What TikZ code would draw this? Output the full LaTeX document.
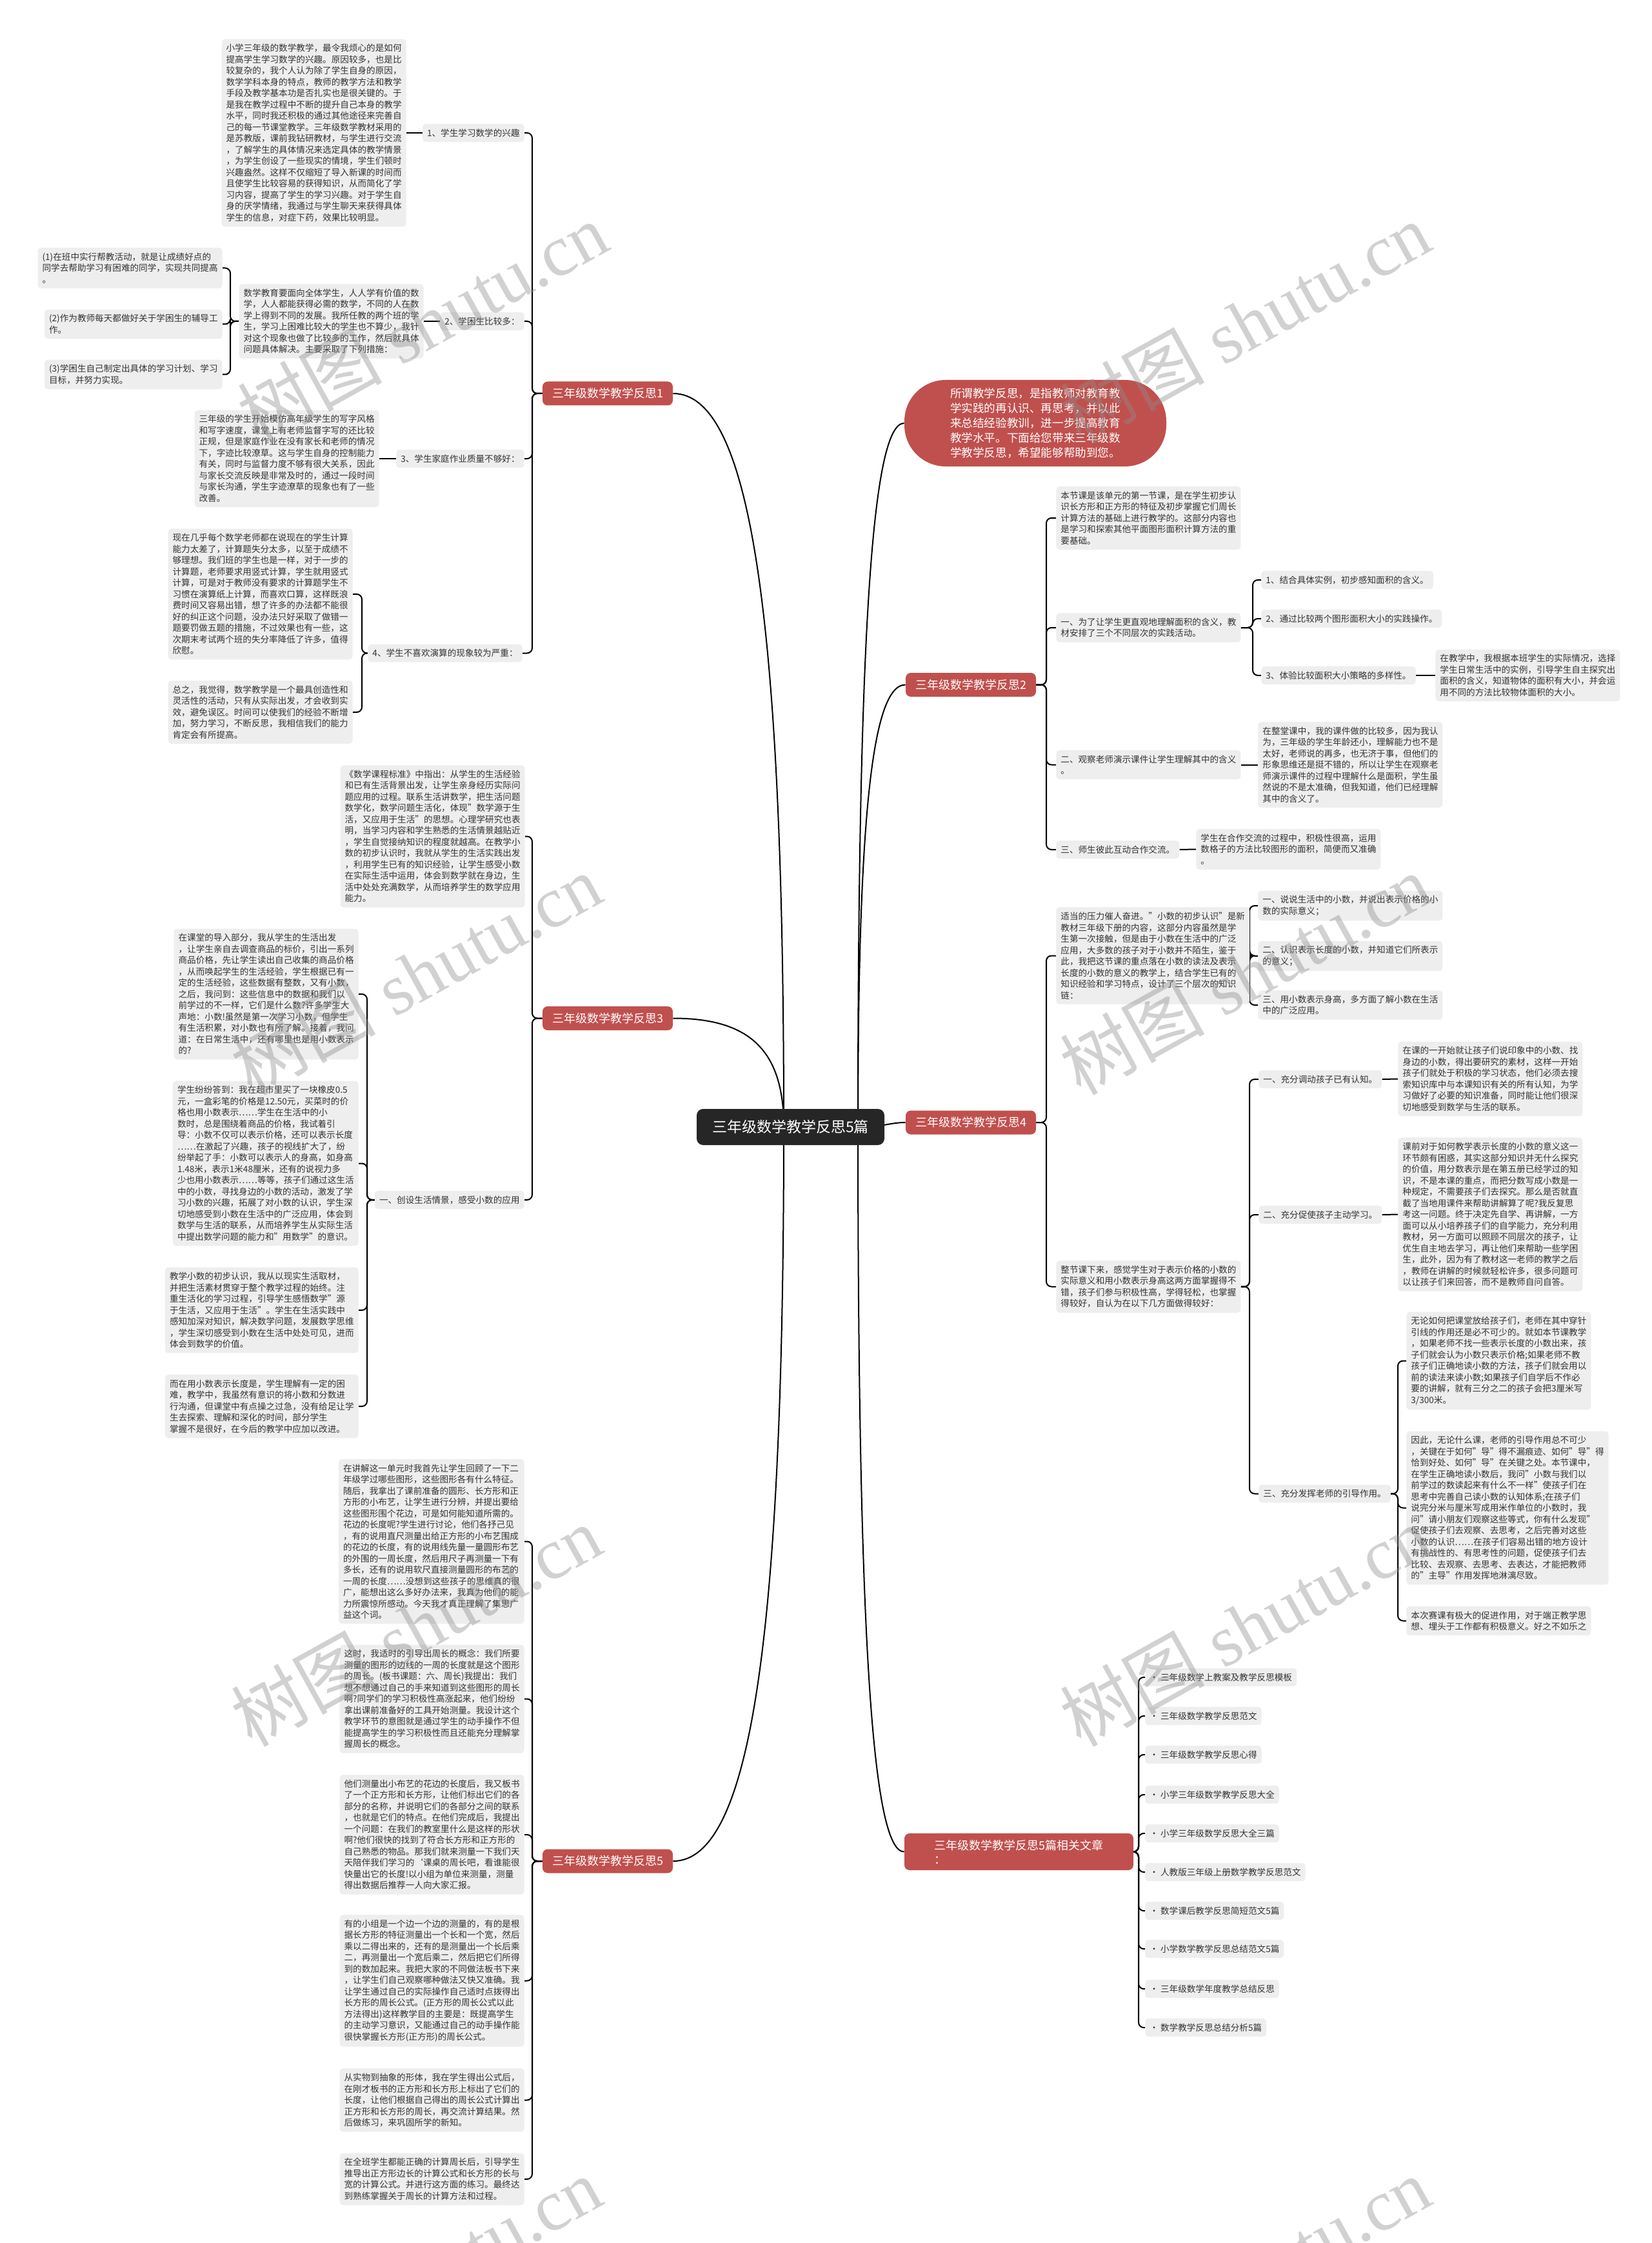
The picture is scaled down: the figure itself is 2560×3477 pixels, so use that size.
\documentclass[tikz,border=0pt]{standalone}
\usepackage{fontspec}
\setmainfont{Noto Sans CJK SC}
\newfontfamily\wmserif{Liberation Serif}
\usetikzlibrary{backgrounds}
\definecolor{boxg}{HTML}{EEEEEE}
\definecolor{txt}{HTML}{333333}
\definecolor{redn}{HTML}{C0504D}
\definecolor{rootc}{HTML}{262626}
\newcommand\fsA{\fontsize{6.8pt}{8.75pt}\selectfont}
\newcommand\fsB{\fontsize{9pt}{11pt}\selectfont}
\newcommand\lkL[3]{\draw[conn] (#1.west) -- (#1.west -| #2) |- (#3.east);}
\newcommand\lkR[3]{\draw[conn] (#1.east) -- (#1.east -| #2) |- (#3.west);}
\tikzset{
  conn/.style={draw=black, line width=1pt, rounded corners=4pt},
  bx/.style={fill=boxg, text=txt, rounded corners=2.5pt, inner xsep=3.5pt, inner ysep=3.8pt, align=left, font=\fsA},
  bl/.style={bx, anchor=east},
  br/.style={bx, anchor=west},
  lone/.style={fill=redn, text=white, rounded corners=4pt, font=\fsB, minimum width=101pt, minimum height=18.5pt, inner sep=0pt},
  rootn/.style={fill=rootc, text=white, rounded corners=5pt, minimum width=145.5pt, minimum height=28pt, font=\fontsize{11.5pt}{14pt}\selectfont},
  bubble/.style={fill=redn, text=white, rounded corners=32pt, minimum width=203pt, minimum height=67pt, align=left, font=\fontsize{8.8pt}{11.5pt}\selectfont},
  wm/.style={text=black!45, opacity=0.4, rotate=29, font=\fontsize{56pt}{60pt}\selectfont}
}
\begin{document}
\begin{tikzpicture}[x=0.5pt,y=-0.5pt]
\useasboundingbox (0,0) rectangle (2560,3477);
% spine coordinates
\coordinate (spL) at (825,0);
\coordinate (sp1b) at (357,0);
\coordinate (sp1d) at (561,0);
\coordinate (sp3b) at (569,0);
\coordinate (spR) at (1622,0);
\coordinate (sp2b) at (1942,0);
\coordinate (sp4a) at (1937,0);
\coordinate (sp4c) at (2167,0);
\coordinate (spX) at (1765,0);

% ---------- root and level 1 ----------
\node[rootn] (root) at (1225.5,1747) {三年级数学教学反思5篇};
\node[lone] (A1) at (942,610) {三年级数学教学反思1};
\node[lone] (A3) at (942,1578.5) {三年级数学教学反思3};
\node[lone] (A5) at (942,2885) {三年级数学教学反思5};
\node[bubble] (intro) at (1605,656) {所谓教学反思，是指教师对教育教\\学实践的再认识、再思考，并以此\\来总结经验教训，进一步提高教育\\教学水平。下面给您带来三年级数\\学教学反思，希望能够帮助到您。};
\node[lone] (A2) at (1505,1061.5) {三年级数学教学反思2};
\node[lone] (A4) at (1505,1740) {三年级数学教学反思4};
\node[lone, minimum width=177.5pt, minimum height=28.5pt, align=left] (A6) at (1579.5,2870.5) {三年级数学教学反思5篇相关文章\\：};

% ---------- section 1 ----------
\node[bl] (s1a) at (813,206) {1、学生学习数学的兴趣};
\node[bl] (s1at) at (630,206) {小学三年级的数学教学，最令我烦心的是如何\\提高学生学习数学的兴趣。原因较多，也是比\\较复杂的，我个人认为除了学生自身的原因，\\数学学科本身的特点，教师的教学方法和教学\\手段及教学基本功是否扎实也是很关键的。于\\是我在教学过程中不断的提升自己本身的教学\\水平，同时我还积极的通过其他途径来完善自\\己的每一节课堂教学。三年级数学教材采用的\\是苏教版，课前我钻研教材，与学生进行交流\\，了解学生的具体情况来选定具体的教学情景\\，为学生创设了一些现实的情境，学生们顿时\\兴趣盎然。这样不仅缩短了导入新课的时间而\\且使学生比较容易的获得知识，从而简化了学\\习内容，提高了学生的学习兴趣。对于学生自\\身的厌学情绪，我通过与学生聊天来获得具体\\学生的信息，对症下药，效果比较明显。};
\node[bl] (s1b) at (813,498) {2、学困生比较多：};
\node[bl] (s1bt) at (657,498) {数学教育要面向全体学生，人人学有价值的数\\学，人人都能获得必需的数学，不同的人在数\\学上得到不同的发展。我所任教的两个班的学\\生，学习上困难比较大的学生也不算少，我针\\对这个现象也做了比较多的工作，然后就具体\\问题具体解决。主要采取了下列措施：};
\node[bl] (s1b1) at (345,415.5) {(1)在班中实行帮教活动，就是让成绩好点的\\同学去帮助学习有困难的同学，实现共同提高\\。};
\node[bl] (s1b2) at (345,502.5) {(2)作为教师每天都做好关于学困生的辅导工\\作。};
\node[bl] (s1b3) at (345,580.5) {(3)学困生自己制定出具体的学习计划、学习\\目标，并努力实现。};
\node[bl] (s1c) at (813,711) {3、学生家庭作业质量不够好：};
\node[bl] (s1ct) at (588,711) {三年级的学生开始模仿高年级学生的写字风格\\和写字速度，课堂上有老师监督字写的还比较\\正规，但是家庭作业在没有家长和老师的情况\\下，字迹比较潦草。这与学生自身的控制能力\\有关，同时与监督力度不够有很大关系，因此\\与家长交流反映是非常及时的，通过一段时间\\与家长沟通，学生字迹潦草的现象也有了一些\\改善。};
\node[bl] (s1d) at (810,1012.5) {4、学生不喜欢演算的现象较为严重：};
\node[bl] (s1d1) at (547,921) {现在几乎每个数学老师都在说现在的学生计算\\能力太差了，计算题失分太多，以至于成绩不\\够理想。我们班的学生也是一样，对于一步的\\计算题，老师要求用竖式计算，学生就用竖式\\计算，可是对于教师没有要求的计算题学生不\\习惯在演算纸上计算，而喜欢口算，这样既浪\\费时间又容易出错，想了许多的办法都不能很\\好的纠正这个问题，没办法只好采取了做错一\\题要罚做五题的措施，不过效果也有一些，这\\次期末考试两个班的失分率降低了许多，值得\\欣慰。};
\node[bl] (s1d2) at (547,1104) {总之，我觉得，数学教学是一个最具创造性和\\灵活性的活动，只有从实际出发，才会收到实\\效，避免误区。时间可以使我们的经验不断增\\加，努力学习，不断反思，我相信我们的能力\\肯定会有所提高。};

% ---------- section 3 ----------
\node[bl] (s3a) at (814,1296.5) {《数学课程标准》中指出：从学生的生活经验\\和已有生活背景出发，让学生亲身经历实际问\\题应用的过程。联系生活讲数学，把生活问题\\数学化，数学问题生活化，体现"数学源于生\\活，又应用于生活"的思想。心理学研究也表\\明，当学习内容和学生熟悉的生活情景越贴近\\，学生自觉接纳知识的程度就越高。在教学小\\数的初步认识时，我就从学生的生活实践出发\\，利用学生已有的知识经验，让学生感受小数\\在实际生活中运用，体会到数学就在身边，生\\活中处处充满数学，从而培养学生的数学应用\\能力。};
\node[bl] (s3b) at (813,1860) {一、创设生活情景，感受小数的应用};
\node[bl] (s3b1) at (556,1541) {在课堂的导入部分，我从学生的生活出发\\，让学生亲自去调查商品的标价，引出一系列\\商品价格，先让学生读出自己收集的商品价格\\，从而唤起学生的生活经验，学生根据已有一\\定的生活经验，这些数据有整数，又有小数，\\之后，我问到：这些信息中的数据和我们以\\前学过的不一样，它们是什么数?许多学生大\\声地：小数!虽然是第一次学习小数，但学生\\有生活积累，对小数也有所了解。接着，我问\\道：在日常生活中，还有哪里也是用小数表示\\的?};
\node[bl] (s3b2) at (556,1803.5) {学生纷纷答到：我在超市里买了一块橡皮0.5\\元，一盒彩笔的价格是12.50元，买菜时的价\\格也用小数表示……学生在生活中的小\\数时，总是围绕着商品的价格，我试着引\\导：小数不仅可以表示价格，还可以表示长度\\……在激起了兴趣，孩子的视线扩大了，纷\\纷举起了手：小数可以表示人的身高，如身高\\1.48米，表示1米48厘米，还有的说视力多\\少也用小数表示……等等，孩子们通过这生活\\中的小数，寻找身边的小数的活动，激发了学\\习小数的兴趣，拓展了对小数的认识，学生深\\切地感受到小数在生活中的广泛应用，体会到\\数学与生活的联系，从而培养学生从实际生活\\中提出数学问题的能力和"用数学"的意识。};
\node[bl] (s3b3) at (556,2031) {教学小数的初步认识，我从以现实生活取材，\\并把生活素材贯穿于整个教学过程的始终。注\\重生活化的学习过程，引导学生感悟数学"源\\于生活，又应用于生活"。学生在生活实践中\\感知加深对知识，解决数学问题，发展数学思维\\，学生深切感受到小数在生活中处处可见，进而\\体会到数学的价值。};
\node[bl] (s3b4) at (556,2180) {而在用小数表示长度是，学生理解有一定的困\\难，教学中，我虽然有意识的将小数和分数进\\行沟通，但课堂中有点操之过急，没有给足让学\\生去探索、理解和深化的时间，部分学生\\掌握不是很好，在今后的教学中应加以改进。};

% ---------- section 5 ----------
\node[bl] (s5a) at (813,2389.5) {在讲解这一单元时我首先让学生回顾了一下二\\年级学过哪些图形，这些图形各有什么特征。\\随后，我拿出了课前准备的圆形、长方形和正\\方形的小布艺，让学生进行分辨，并提出要给\\这些图形围个花边，可是如何能知道所需的。\\花边的长度呢?学生进行讨论，他们各抒己见\\，有的说用直尺测量出给正方形的小布艺围成\\的花边的长度，有的说用线先量一量圆形布艺\\的外围的一周长度，然后用尺子再测量一下有\\多长，还有的说用软尺直接测量圆形的布艺的\\一周的长度……没想到这些孩子的思维真的很\\广，能想出这么多好办法来，我真为他们的能\\力所震惊所感动。今天我才真正理解了集思广\\益这个词。};
\node[bl] (s5b) at (813,2633.5) {这时，我适时的引导出周长的概念：我们所要\\测量的图形的边线的一周的长度就是这个图形\\的周长。(板书课题：六、周长)我提出：我们\\想不想通过自己的手来知道到这些图形的周长\\啊?同学们的学习积极性高涨起来，他们纷纷\\拿出课前准备好的工具开始测量。我设计这个\\教学环节的意图就是通过学生的动手操作不但\\能提高学生的学习积极性而且还能充分理解掌\\握周长的概念。};
\node[bl] (s5c) at (813,2844) {他们测量出小布艺的花边的长度后，我又板书\\了一个正方形和长方形，让他们标出它们的各\\部分的名称，并说明它们的各部分之间的联系\\，也就是它们的特点。在他们完成后，我提出\\一个问题：在我们的教室里什么是这样的形状\\啊?他们很快的找到了符合长方形和正方形的\\自己熟悉的物品。那我们就来测量一下我们天\\天陪伴我们学习的`课桌的周长吧，看谁能很\\快量出它的长度!以小组为单位来测量，测量\\得出数据后推荐一人向大家汇报。};
\node[bl] (s5d) at (813,3070.5) {有的小组是一个边一个边的测量的，有的是根\\据长方形的特征测量出一个长和一个宽，然后\\乘以二得出来的，还有的是测量出一个长后乘\\二，再测量出一个宽后乘二，然后把它们所得\\到的数加起来。我把大家的不同做法板书下来\\，让学生们自己观察哪种做法又快又准确。我\\让学生通过自己的实际操作自己适时点拨得出\\长方形的周长公式。(正方形的周长公式以此\\方法得出)这样教学目的主要是：既提高学生\\的主动学习意识，又能通过自己的动手操作能\\很快掌握长方形(正方形)的周长公式。};
\node[bl] (s5e) at (813,3255.5) {从实物到抽象的形体，我在学生得出公式后，\\在刚才板书的正方形和长方形上标出了它们的\\长度，让他们根据自己得出的周长公式计算出\\正方形和长方形的周长，再交流计算结果。然\\后做练习，来巩固所学的新知。};
\node[bl] (s5f) at (813,3378) {在全班学生都能正确的计算周长后，引导学生\\推导出正方形边长的计算公式和长方形的长与\\宽的计算公式。并进行这方面的练习。最终达\\到熟练掌握关于周长的计算方法和过程。};

% ---------- section 2 ----------
\node[br] (s2a) at (1637,803) {本节课是该单元的第一节课，是在学生初步认\\识长方形和正方形的特征及初步掌握它们周长\\计算方法的基础上进行教学的。这部分内容也\\是学习和探索其他平面图形面积计算方法的重\\要基础。};
\node[br] (s2b) at (1637,973) {一、为了让学生更直观地理解面积的含义，教\\材安排了三个不同层次的实践活动。};
\node[br] (s2b1) at (1955,899) {1、结合具体实例，初步感知面积的含义。};
\node[br] (s2b2) at (1955,959) {2、通过比较两个图形面积大小的实践操作。};
\node[br] (s2b3) at (1955,1047) {3、体验比较面积大小策略的多样性。};
\node[br] (s2b3t) at (2225,1047) {在教学中，我根据本班学生的实际情况，选择\\学生日常生活中的实例，引导学生自主探究出\\面积的含义，知道物体的面积有大小，并会运\\用不同的方法比较物体面积的大小。};
\node[br] (s2c) at (1637,1185.5) {二、观察老师演示课件让学生理解其中的含义\\。};
\node[br] (s2ct) at (1950,1185.5) {在整堂课中，我的课件做的比较多，因为我认\\为，三年级的学生年龄还小，理解能力也不是\\太好，老师说的再多，也无济于事，但他们的\\形象思维还是挺不错的，所以让学生在观察老\\师演示课件的过程中理解什么是面积，学生虽\\然说的不是太准确，但我知道，他们已经理解\\其中的含义了。};
\node[br] (s2d) at (1637,1317) {三、师生彼此互动合作交流。};
\node[br] (s2dt) at (1854,1316.5) {学生在合作交流的过程中，积极性很高，运用\\数格子的方法比较图形的面积，简便而又准确\\。};

% ---------- section 4 ----------
\node[br] (s4a) at (1637,1481.5) {适当的压力催人奋进。"小数的初步认识"是新\\教材三年级下册的内容，这部分内容虽然是学\\生第一次接触，但是由于小数在生活中的广泛\\应用，大多数的孩子对于小数并不陌生，鉴于\\此，我把这节课的重点落在小数的读法及表示\\长度的小数的意义的教学上，结合学生已有的\\知识经验和学习特点，设计了三个层次的知识\\链：};
\node[br] (s4a1) at (1950,1404) {一、说说生活中的小数，并说出表示价格的小\\数的实际意义；};
\node[br] (s4a2) at (1950,1482) {二、认识表示长度的小数，并知道它们所表示\\的意义；};
\node[br] (s4a3) at (1950,1558) {三、用小数表示身高，多方面了解小数在生活\\中的广泛应用。};
\node[br] (s4b) at (1637,1994.5) {整节课下来，感觉学生对于表示价格的小数的\\实际意义和用小数表示身高这两方面掌握得不\\错，孩子们参与积极性高，学得轻松，也掌握\\得较好，自认为在以下几方面做得较好：};
\node[br] (s4b1) at (1951,1673) {一、充分调动孩子已有认知。};
\node[br] (s4b1t) at (2167,1672.5) {在课的一开始就让孩子们说印象中的小数、找\\身边的小数，得出要研究的素材，这样一开始\\孩子们就处于积极的学习状态，他们必须去搜\\索知识库中与本课知识有关的所有认知，为学\\习做好了必要的知识准备，同时能让他们很深\\切地感受到数学与生活的联系。};
\node[br] (s4b2) at (1951,1883) {二、充分促使孩子主动学习。};
\node[br] (s4b2t) at (2167,1882.5) {课前对于如何教学表示长度的小数的意义这一\\环节颇有困惑，其实这部分知识并无什么探究\\的价值，用分数表示是在第五册已经学过的知\\识，不是本课的重点，而把分数写成小数是一\\种规定，不需要孩子们去探究。那么是否就直\\截了当地用课件来帮助讲解算了呢?我反复思\\考这一问题。终于决定先自学、再讲解，一方\\面可以从小培养孩子们的自学能力，充分利用\\教材，另一方面可以照顾不同层次的孩子，让\\优生自主地去学习，再让他们来帮助一些学困\\生，此外，因为有了教材这一老师的教学之后\\，教师在讲解的时候就轻松许多，很多问题可\\以让孩子们来回答，而不是教师自问自答。};
\node[br] (s4b3) at (1951,2315.5) {三、充分发挥老师的引导作用。};
\node[br] (s4b3a) at (2180,2109.5) {无论如何把课堂放给孩子们，老师在其中穿针\\引线的作用还是必不可少的。就如本节课教学\\，如果老师不找一些表示长度的小数出来，孩\\子们就会认为小数只表示价格;如果老师不教\\孩子们正确地读小数的方法，孩子们就会用以\\前的读法来读小数;如果孩子们自学后不作必\\要的讲解，就有三分之二的孩子会把3厘米写\\3/300米。};
\node[br] (s4b3b) at (2180,2337.5) {因此，无论什么课，老师的引导作用总不可少\\，关键在于如何"导"得不漏痕迹、如何"导"得\\恰到好处、如何"导"在关键之处。本节课中，\\在学生正确地读小数后，我问"小数与我们以\\前学过的数读起来有什么不一样"使孩子们在\\思考中完善自己读小数的认知体系;在孩子们\\说完分米与厘米写成用米作单位的小数时，我\\问"请小朋友们观察这些等式，你有什么发现"\\促使孩子们去观察、去思考，之后完善对这些\\小数的认识……在孩子们容易出错的地方设计\\有挑战性的、有思考性的问题，促使孩子们去\\比较、去观察、去思考、去表达，才能把教师\\的"主导"作用发挥地淋漓尽致。};
\node[br] (s4b3c) at (2180,2512.5) {本次赛课有极大的促进作用，对于端正教学思\\想、埋头于工作都有积极意义。好之不如乐之};

% ---------- related ----------
\node[br] (r1) at (1775,2600) {• 三年级数学上教案及教学反思模板};
\node[br] (r2) at (1775,2660) {• 三年级数学教学反思范文};
\node[br] (r3) at (1775,2720) {• 三年级数学教学反思心得};
\node[br] (r4) at (1775,2782) {• 小学三年级数学教学反思大全};
\node[br] (r5) at (1775,2842) {• 小学三年级数学反思大全三篇};
\node[br] (r6) at (1775,2902) {• 人教版三年级上册数学教学反思范文};
\node[br] (r7) at (1775,2962) {• 数学课后教学反思简短范文5篇};
\node[br] (r8) at (1775,3021) {• 小学数学教学反思总结范文5篇};
\node[br] (r9) at (1775,3083) {• 三年级数学年度教学总结反思};
\node[br] (r10) at (1775,3143) {• 数学教学反思总结分析5篇};

% ---------- connectors ----------
\begin{pgfonlayer}{background}
\fill[white] (0,0) rectangle (2560,3477);
% root links
\draw[conn] (1215,1747) .. controls (1215,951) and (1163,610) .. (A1.east);
\draw[conn] (1215,1747) .. controls (1215,1629) and (1163,1578.5) .. (A3.east);
\draw[conn] (1215,1747) .. controls (1215,2544) and (1163,2885) .. (A5.east);
\draw[conn] (1330,1747) .. controls (1330,983) and (1352,656) .. (intro.west);
\draw[conn] (1330,1747) .. controls (1330,1267) and (1352,1061.5) .. (A2.west);
\draw[conn] (1330,1747) .. controls (1370,1747) and (1380,1740) .. (A4.west);
\draw[conn] (1330,1747) .. controls (1330,2533) and (1352,2870.5) .. (A6.west);
% section 1
\lkL{A1}{spL}{s1a} \lkL{A1}{spL}{s1b} \lkL{A1}{spL}{s1c} \lkL{A1}{spL}{s1d}
\draw[conn] (s1a.west) -- (s1at.east);
\draw[conn] (s1b.west) -- (s1bt.east);
\lkL{s1bt}{sp1b}{s1b1} \lkL{s1bt}{sp1b}{s1b2} \lkL{s1bt}{sp1b}{s1b3}
\draw[conn] (s1c.west) -- (s1ct.east);
\lkL{s1d}{sp1d}{s1d1} \lkL{s1d}{sp1d}{s1d2}
% section 3
\lkL{A3}{spL}{s3a} \lkL{A3}{spL}{s3b}
\lkL{s3b}{sp3b}{s3b1} \lkL{s3b}{sp3b}{s3b2} \lkL{s3b}{sp3b}{s3b3} \lkL{s3b}{sp3b}{s3b4}
% section 5
\lkL{A5}{spL}{s5a} \lkL{A5}{spL}{s5b} \lkL{A5}{spL}{s5c} \lkL{A5}{spL}{s5d} \lkL{A5}{spL}{s5e} \lkL{A5}{spL}{s5f}
% section 2
\lkR{A2}{spR}{s2a} \lkR{A2}{spR}{s2b} \lkR{A2}{spR}{s2c} \lkR{A2}{spR}{s2d}
\lkR{s2b}{sp2b}{s2b1} \lkR{s2b}{sp2b}{s2b2} \lkR{s2b}{sp2b}{s2b3}
\draw[conn] (s2b3.east) -- (s2b3t.west);
\draw[conn] (s2c.east) -- (s2ct.west);
\draw[conn] (s2d.east) -- (s2dt.west);
% section 4
\lkR{A4}{spR}{s4a} \lkR{A4}{spR}{s4b}
\lkR{s4a}{sp4a}{s4a1} \lkR{s4a}{sp4a}{s4a2} \lkR{s4a}{sp4a}{s4a3}
\lkR{s4b}{sp4a}{s4b1} \lkR{s4b}{sp4a}{s4b2} \lkR{s4b}{sp4a}{s4b3}
\draw[conn] (s4b1.east) -- (s4b1t.west);
\draw[conn] (s4b2.east) -- (s4b2t.west);
\lkR{s4b3}{sp4c}{s4b3a} \lkR{s4b3}{sp4c}{s4b3b} \lkR{s4b3}{sp4c}{s4b3c}
% related
\foreach \r in {r1,r2,r3,r4,r5,r6,r7,r8,r9,r10} {\lkR{A6}{spX}{\r}}
\end{pgfonlayer}

% ---------- watermarks ----------
\foreach \wx/\wy in {655/500,1930/500,645/1510,1930/1510,645/2520,1930/2520,645/3530,1930/3530}
  \node[wm] at (\wx,\wy) {树图\hspace{14pt}{\wmserif shutu.cn}};
\end{tikzpicture}
\end{document}
